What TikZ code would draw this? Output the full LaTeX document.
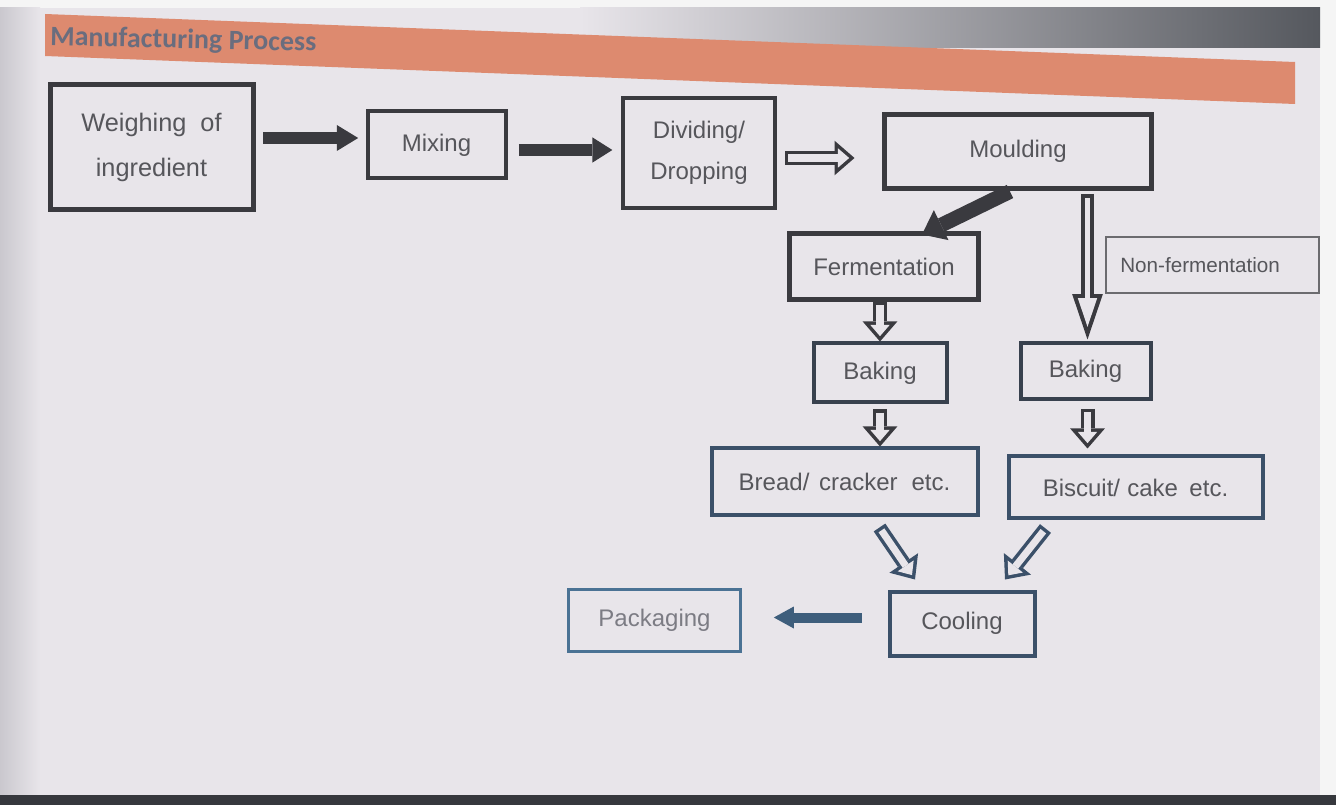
\documentclass[tikz,border=0pt]{standalone}
\usepackage{fontspec}
\setmainfont{Liberation Sans}
\newfontfamily\titlefont{Carlito}
\usetikzlibrary{arrows.meta,calc}
\definecolor{slidebg}{HTML}{E8E5EA}
\definecolor{darkline}{HTML}{3A3A3F}
\definecolor{bakeline}{HTML}{38414E}
\definecolor{blueline}{HTML}{3B5069}
\definecolor{packblue}{HTML}{4A7294}
\definecolor{arrowblue}{HTML}{3E5E7C}
\definecolor{txt}{HTML}{56565B}
\definecolor{lighttxt}{HTML}{7C7C84}
\definecolor{bandcol}{HTML}{DD8A6F}
\definecolor{titlecol}{HTML}{6A6D7E}
\definecolor{darkband}{HTML}{55585E}
\definecolor{edgegray}{HTML}{CAC8CE}
\definecolor{bottomdark}{HTML}{36383D}
\begin{document}
\begin{tikzpicture}[x=0.75pt,y=-0.75pt,
  box/.style={draw=darkline, line width=3pt, inner sep=0pt, outer sep=0pt,
    text=txt, align=center, font=\fontsize{18}{31}\selectfont},
  wh/.style 2 args={minimum width=#1*0.75pt, minimum height=#2*0.75pt},
  fillarrow/.style n args={4}{draw=#1, line width=#2,
    -{Triangle[length=#3,width=#4,line width=0pt]}},
  hollowA/.style n args={3}{draw=#1, line width=10.5pt, shorten <=#2, shorten >=#3,
    -{Triangle[length=15pt,width=26pt,line width=0pt]},
    postaction={draw=slidebg, line width=5.3pt, shorten <=#2+2.6pt, shorten >=#3+4pt,
      -{Triangle[length=8.4pt,width=14.5pt,line width=0pt]}}},
  hollowB/.style n args={3}{draw=#1, line width=10pt, shorten <=#2, shorten >=#3,
    -{Triangle[length=34pt,width=23pt,line width=0pt]},
    postaction={draw=slidebg, line width=4pt, shorten <=#2+3pt, shorten >=#3+9.5pt,
      -{Triangle[length=21.5pt,width=14.5pt,line width=0pt]}}}]
\useasboundingbox (0,0) rectangle (1336,805);
% photo background
\fill[white!96!black] (0,0) rectangle (1336,805);
\fill[slidebg] (14,8) rectangle (1320,795);
\shade[left color=edgegray, right color=slidebg] (0,8) rectangle (40,795);
\shade[left color=slidebg, right color=darkband] (580,8) rectangle (1320,48);
\fill[bottomdark] (0,795) rectangle (1336,805);
% title band
\fill[bandcol] (45,14) -- (1295,62) -- (1295,104) -- (45,56) -- cycle;
\node[anchor=west, rotate=-1.2, inner sep=0pt, text=titlecol,
  font=\titlefont\bfseries\fontsize{21}{21}\selectfont] (title) at (50,38) {Manufacturing Process};
% boxes
\node[box, wh={203}{125}, line width=3.75pt, font=\fontsize{19}{34}\selectfont] (w) at (151.5,147.5) {Weighing\hspace{0.55em}of\\ingredient};
\node[box, wh={138}{67}] (mix) at (436.5,145) {Mixing};
\node[box, wh={152}{110}, line width=3.4pt] (div) at (699,153) {Dividing/\\Dropping};
\node[box, wh={267}{74}, line width=3.4pt] (mould) at (1018,151.5) {Moulding};
\node[box, wh={189}{66}, line width=3.2pt] (ferm) at (884,266.5) {Fermentation};
\node[box, wh={213}{56}, line width=1.2pt, draw=darkline!75, font=\fontsize{15.5}{18}\selectfont] (nonf) at (1212.5,265) {\hspace{-1.2em}Non-fermentation};
\node[box, wh={133}{59}, draw=bakeline] (bake1) at (880,373) {Baking};
\node[box, wh={130}{56}, draw=bakeline] (bake2) at (1085.5,371.5) {Baking};
\node[box, wh={266}{67}, draw=blueline] (bread) at (844.5,482) {Bread/\hspace{0.4em}cracker\hspace{0.3em} etc.};
\node[box, wh={254}{62}, draw=blueline] (bisc) at (1135.5,487.5) {Biscuit/\hspace{0.3em}cake\hspace{0.2em} etc.};
\node[box, wh={145}{64}, draw=blueline] (cool) at (962,623.5) {Cooling};
\node[box, wh={172}{62}, line width=2.2pt, draw=packblue, text=lighttxt] (pack) at (654.5,620.5) {Packaging};
% connectors
\draw[fillarrow={darkline}{9pt}{16pt}{19.5pt}, shorten <=7.5pt, shorten >=7pt]
  ($(w.east |- mix.west)+(0,-7)$) -- ($(mix.west)+(0,-7)$);
\draw[fillarrow={darkline}{9pt}{15pt}{19pt}, shorten <=10pt, shorten >=8pt]
  ($(mix.east)+(0,5)$) -- ($(mix.east -| div.west)+(0,5)$);
\draw[hollowA={darkline}{7.5pt}{22.5pt}]
  ($(div.east)+(0,5)$) -- ($(div.east -| mould.west)+(0,5)$);
\draw[fillarrow={darkline}{11pt}{16pt}{25pt}]
  ($(mould.south)+(-8,3)$) -- ($(ferm.north)+(38,1)$);
\draw[hollowB={darkline}{4pt}{3pt}]
  ($(bake2.north |- mould.south)+(2,0)$) -- ($(bake2.north)+(2,0)$);
\draw[hollowA={darkline}{1.5pt}{1.5pt}]
  (bake1.north |- ferm.south) -- (bake1.north);
\draw[hollowA={darkline}{5pt}{1.5pt}]
  (bake1.south) -- (bake1.south |- bread.north);
\draw[hollowA={darkline}{7pt}{6pt}]
  ($(bake2.south)+(2,0)$) -- ($(bake2.south |- bisc.north)+(2,0)$);
\draw[hollowA={blueline}{0pt}{0pt}]
  ($(bread.south)+(35,12)$) -- ($(cool.north)+(-47,-12)$);
\draw[hollowA={blueline}{0pt}{0pt}]
  ($(bisc.south)+(-90,10)$) -- ($(cool.north)+(43,-12)$);
\draw[fillarrow={arrowblue}{7.5pt}{15pt}{16.5pt}, shorten <=21pt, shorten >=25pt]
  ($(cool.west)+(0,-6)$) -- ($(cool.west -| pack.east)+(0,-6)$);
\end{tikzpicture}
\end{document}
